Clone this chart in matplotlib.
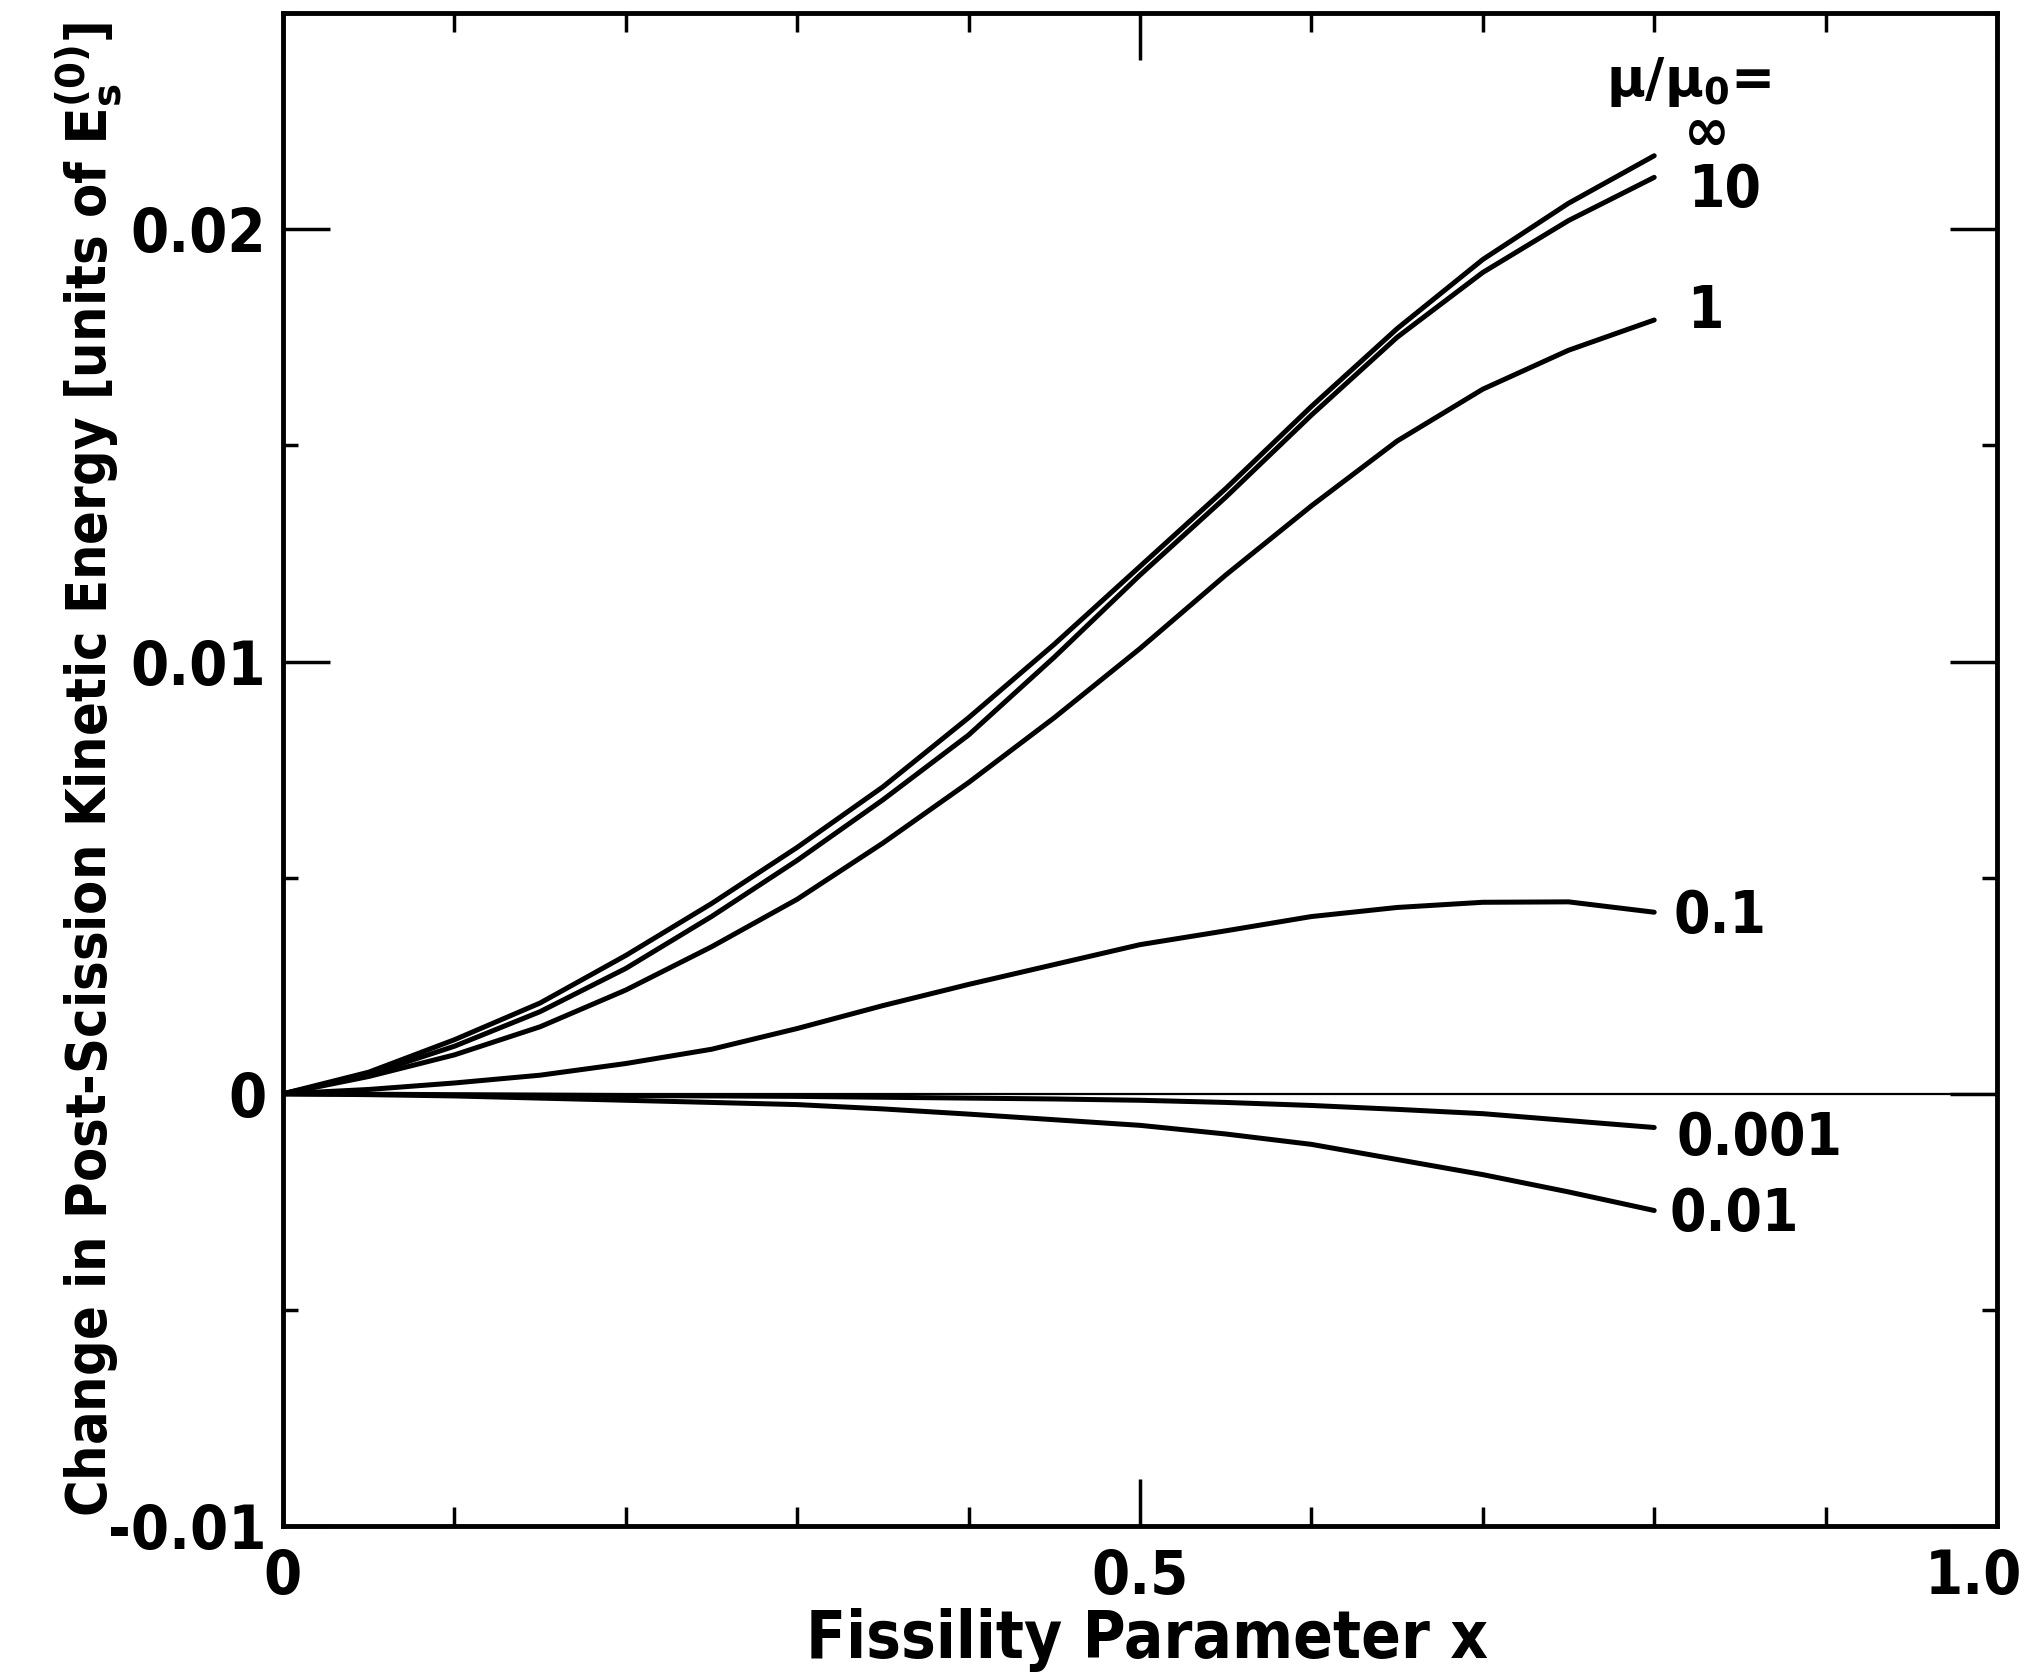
import matplotlib
matplotlib.use("Agg")
import matplotlib.pyplot as plt
import matplotlib.transforms as mtransforms
from matplotlib.ticker import MultipleLocator, FixedLocator

# ---- data ----
x_vals = [0.0, 0.05, 0.1, 0.15, 0.2, 0.25, 0.3, 0.35, 0.4, 0.45, 0.5, 0.55, 0.6, 0.65, 0.7, 0.75, 0.8]
y_inf = [0.0, 0.0005, 0.00125, 0.0021, 0.0032, 0.0044, 0.0057, 0.0071, 0.0087, 0.0104, 0.0122, 0.0140, 0.0159, 0.0177, 0.0193, 0.0206, 0.0217]
y_10 = [0.0, 0.00045, 0.0011, 0.0019, 0.0029, 0.0041, 0.0054, 0.0068, 0.0083, 0.0101, 0.0120, 0.0138, 0.0157, 0.0175, 0.0190, 0.0202, 0.0212]
y_1 = [0.0, 0.0004, 0.0009, 0.00155, 0.0024, 0.0034, 0.0045, 0.0058, 0.0072, 0.0087, 0.0103, 0.0120, 0.0136, 0.0151, 0.0163, 0.0172, 0.0179]
y_01 = [0.0, 0.0001, 0.00025, 0.00043, 0.0007, 0.00103, 0.00151, 0.00204, 0.00253, 0.00299, 0.00345, 0.00377, 0.0041, 0.00431, 0.00443, 0.00444, 0.0042]
y_001 = [0.0, -0.00002, -0.00005, -0.0001, -0.00015, -0.0002, -0.00025, -0.00035, -0.00047, -0.0006, -0.00073, -0.00093, -0.00117, -0.00152, -0.00187, -0.00227, -0.0027]
y_0001 = [0.0, -0.00001, -0.00002, -0.00003, -0.00004, -0.00005, -0.00006, -0.00008, -0.0001, -0.00012, -0.00015, -0.0002, -0.00027, -0.00036, -0.00046, -0.00062, -0.00078]

series = [y_inf, y_10, y_1, y_01, y_001, y_0001]
series_labels = ["\u221e", "10", "1", "0.1", "0.01", "0.001"]
label_pos = [(0.831, 0.0222), (0.820, 0.0209), (0.819, 0.0181), (0.811, 0.0041), (0.809, -0.0028), (0.813, -0.00103)]
label_ha = ["center", "left", "left", "left", "left", "left"]

x_ticks = [0.0, 0.5, 1.0]
x_tick_labels = ["0", "0.5", "1.0"]
y_ticks = [-0.01, 0.0, 0.01, 0.02]
y_tick_labels = ["-0.01", "0", "0.01", "0.02"]

FONT = "DejaVu Sans"
STRETCH = "condensed"

fig = plt.figure(figsize=(20.33, 16.77), dpi=100)
ax = fig.add_axes([0.1392, 0.0900, 0.9823 - 0.1392, 0.9922 - 0.0900])

ax.axhline(0.0, color="black", lw=1.6, zorder=1)
for ys in series:
    ax.plot(x_vals, ys, color="black", lw=3.6, solid_capstyle="round",
            solid_joinstyle="round", zorder=2)

for lab, (lx, ly), ha in zip(series_labels, label_pos, label_ha):
    ax.text(lx, ly, lab, fontsize=44 if lab == "\u221e" else 42, family=FONT,
            fontweight="bold", fontstretch=STRETCH, ha=ha, va="center")
ax.text(0.772, 0.0234, r"$\mathbf{\mu/\mu_0}$=", fontsize=38, family=FONT,
        fontweight="bold", ha="left", va="center")

ax.set_xlim(0.0, 1.0)
ax.set_ylim(-0.01, 0.025)

ax.xaxis.set_major_locator(FixedLocator(x_ticks))
ax.set_xticklabels(x_tick_labels)
ax.xaxis.set_minor_locator(MultipleLocator(0.1))
ax.yaxis.set_major_locator(FixedLocator(y_ticks))
ax.set_yticklabels(y_tick_labels)
ax.yaxis.set_minor_locator(MultipleLocator(0.005))

ax.tick_params(axis="both", which="both", direction="in", top=True, right=True,
               colors="black", width=2.5)
ax.tick_params(axis="x", which="major", length=34, pad=16, labelsize=44)
ax.tick_params(axis="x", which="minor", length=14)
ax.tick_params(axis="y", which="major", length=34, pad=12, labelsize=44)
ax.tick_params(axis="y", which="minor", length=11)
for lbl in ax.get_xticklabels() + ax.get_yticklabels():
    lbl.set_family(FONT)
    lbl.set_fontweight("bold")
    lbl.set_fontstretch(STRETCH)

# nudge the "1.0" label left so it stays inside the figure
last = ax.get_xticklabels()[-1]
last.set_transform(last.get_transform() + mtransforms.ScaledTranslation(-24 / 100, 0, fig.dpi_scale_trans))

for sp in ax.spines.values():
    sp.set_linewidth(3.5)

ax.set_xlabel("Fissility Parameter x", fontsize=47, family=FONT, fontweight="bold",
              fontstretch=STRETCH)
ax.xaxis.set_label_coords(0.504, -0.054)
ax.xaxis.label.set_va("top")
ax.set_ylabel(r"Change in Post-Scission Kinetic Energy [units of $\mathbf{E_s^{(0)}}$]",
              fontsize=40, family=FONT, fontweight="bold", fontstretch=STRETCH)
ax.yaxis.set_label_coords(-0.093, 0.5)

fig.savefig("out.png", dpi=100, facecolor="white")
